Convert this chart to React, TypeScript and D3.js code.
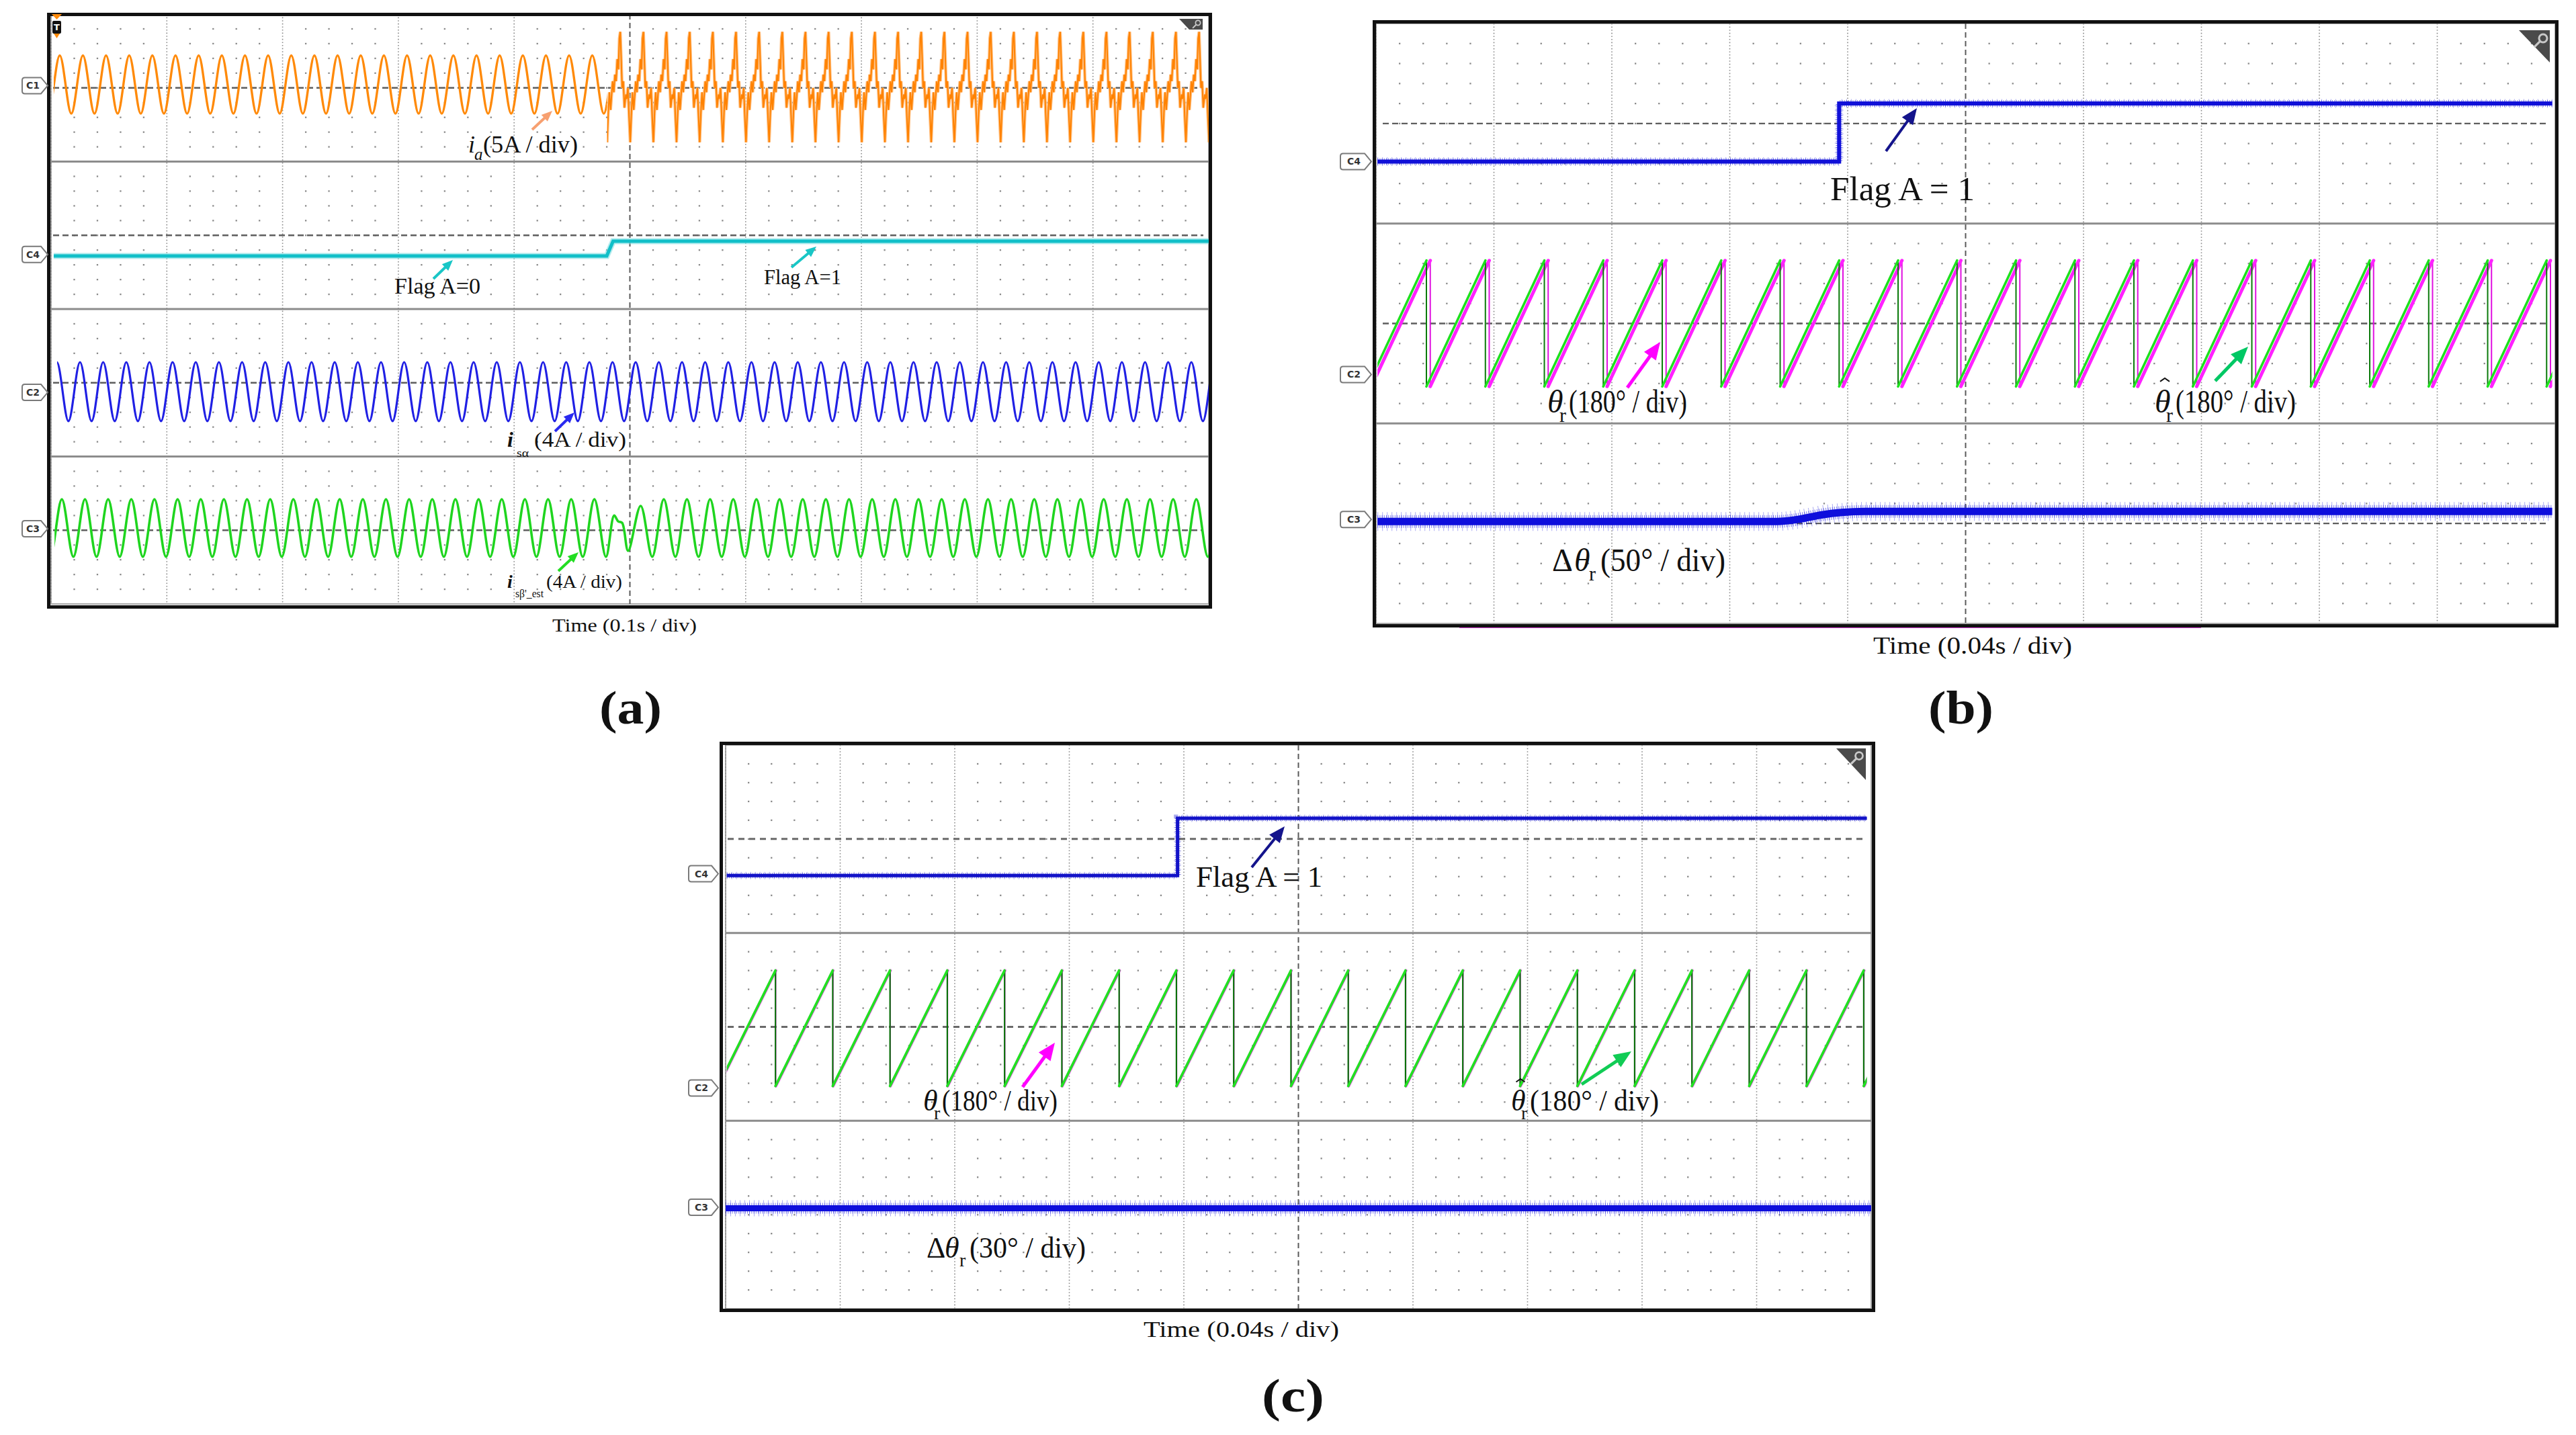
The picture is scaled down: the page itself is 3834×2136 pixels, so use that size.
import React from "react";
import * as d3 from "d3";

type Pt = [number, number];

const W = 3834;
const H = 2136;
const SERIF = "'Liberation Serif', 'Times New Roman', serif";
const SANS = "'DejaVu Sans', Arial, sans-serif";

// ======================= DATA =======================
// ---- panel (a): 0.1 s/div, values in vertical divisions relative to each channel reference ----
const aChannelNames = ["C1", "C4", "C2", "C3"];
const aRefLevels = [3, 1, -1, -3];
const aMarkerLevels = [3.03, 0.74, -1.13, -2.98];

// i_a (5 A/div): sinusoid before the switch, distorted after
const iaStart = 0.0023;
const iaEnd = 1.0;
const iaSwitch = 0.4803;
const iaSine = { firstPeak: 0.0075, period: 0.02, peak: 0.44, trough: -0.35 };
// one distorted cycle after the switch: [phase (0..1), value (div)]
const iaDistortedCycle: Pt[] = [
  [0.0, -0.74], [0.05, -0.34], [0.1, -0.06], [0.15, -0.3], [0.19, -0.12], [0.24, 0.09],
  [0.29, -0.06], [0.34, 0.18], [0.39, 0.09], [0.44, 0.39], [0.49, 0.25], [0.53, 0.67],
  [0.57, 0.76], [0.61, 0.39], [0.65, 0.0], [0.7, 0.09], [0.75, -0.27], [0.81, -0.09],
  [0.85, -0.15], [0.9, 0.0], [0.95, -0.39],
];
const iaDistortedPeriod = 0.02;

// Flag A (C4)
const aFlag: Pt[] = [[0.0023, -0.28], [0.48, -0.28], [0.4855, -0.08], [1.0, -0.08]];

// i_s alpha (C2, 4 A/div)
const isaSine = { start: 0.0052, end: 1.0, firstPeak: 0.005, period: 0.02, peak: 0.28, trough: -0.52 };
// i_s beta'_est (C3, 4 A/div)
const isbSine = { start: 0.003, end: 1.0, firstPeak: 0.0093, period: 0.02, peak: 0.42, trough: -0.36 };
const isbDisturbWindow: Pt = [0.482, 0.51];
const isbDisturbance: Pt[] = [[0.4864, 0.2], [0.4899, 0.12], [0.4933, 0.1], [0.4985, -0.28], [0.5093, 0.33]];

// ---- panel (b): 0.04 s/div ----
const bChannelNames = ["C4", "C2", "C3"];
const bRefLevels = [2, 0, -2];
const bMarkerLevels = [1.62, -0.51, -1.96];
const bFlag: Pt[] = [[0.0005, -0.38], [0.1571, -0.38], [0.1571, 0.2], [0.399, 0.2]];
const bSawResets = [
  0.0171, 0.0371, 0.0571, 0.0771, 0.0971, 0.1171, 0.1371, 0.1571, 0.1771, 0.1971,
  0.2171, 0.2371, 0.2571, 0.2771, 0.2971, 0.3171, 0.3371, 0.3571, 0.3771, 0.3971,
];
const bSawLag = 0.0013; // theta_r (magenta) behind estimate (green)
const bSawLow = -0.63;
const bSawHigh = 0.63;
const bSawSpan: Pt = [0.0005, 0.399];
const bDelta: Pt[] = [
  [0.0005, 0.02], [0.136, 0.02], [0.144, 0.045], [0.151, 0.085], [0.158, 0.11], [0.166, 0.12], [0.399, 0.12],
];

// ---- panel (c): 0.04 s/div ----
const cChannelNames = ["C4", "C2", "C3"];
const cRefLevels = [2, 0];
const cMarkerLevels = [1.63, -0.65, -1.92];
const cFlag: Pt[] = [[0.0004, -0.39], [0.1578, -0.39], [0.1578, 0.22], [0.3985, 0.22]];
const cSawResets = [
  0.0174, 0.0374, 0.0574, 0.0774, 0.0974, 0.1174, 0.1374, 0.1574, 0.1774, 0.1974,
  0.2174, 0.2374, 0.2574, 0.2774, 0.2974, 0.3174, 0.3374, 0.3574, 0.3774, 0.3974,
];
const cSawLag = 0.00015;
const cSawLow = -0.63;
const cSawHigh = 0.6;
const cSawSpan: Pt = [0.0004, 0.3985];
const cDeltaRef = -2.0;
const cDelta: Pt[] = [[0.0, 0.07], [0.4, 0.07]];

// ---- text ----
const txtIa = "(5A / div)";
const txtFlag0 = "Flag A=0";
const txtFlag1 = "Flag A=1";
const txtIs = "(4A / div)";
const txtTimeA = "Time (0.1s / div)";
const txtTimeBC = "Time (0.04s / div)";
const txtFlagBig = "Flag  A = 1";
const txt180 = "(180° / div)";
const txt50 = "(50° / div)";
const txt30 = "(30° / div)";

// ======================= HELPERS =======================
function sineExtrema(c: { firstPeak: number; period: number; peak: number; trough: number }, t0: number, t1: number): Pt[] {
  const out: Pt[] = [];
  const k0 = Math.floor((t0 - c.firstPeak) / c.period) - 1;
  const k1 = Math.ceil((t1 - c.firstPeak) / c.period) + 1;
  for (let k = k0; k <= k1; k++) {
    const tp = c.firstPeak + k * c.period;
    out.push([tp, c.peak], [tp + c.period / 2, c.trough]);
  }
  return out;
}

function arrow(key: string, x1: number, y1: number, x2: number, y2: number, color: string, w: number, head: number) {
  const a = Math.atan2(y2 - y1, x2 - x1);
  const bx = x2 - head * Math.cos(a);
  const by = y2 - head * Math.sin(a);
  const px = -Math.sin(a) * head * 0.42;
  const py = Math.cos(a) * head * 0.42;
  return (
    <g key={key}>
      <line x1={x1} y1={y1} x2={bx + Math.cos(a) * 2} y2={by + Math.sin(a) * 2} stroke={color} strokeWidth={w} />
      <polygon points={`${x2},${y2} ${bx + px},${by + py} ${bx - px},${by - py}`} fill={color} />
    </g>
  );
}

function Hat({ x, y, w }: { x: number; y: number; w: number }) {
  return <path d={`M${x - w},${y + w * 0.7} L${x},${y} L${x + w},${y + w * 0.7}`} fill="none" stroke="#111" strokeWidth={2} />;
}

function Grid({ x0, x1, y0, y1, ny }: { x0: number; x1: number; y0: number; y1: number; ny: number }) {
  const gx = d3.scaleLinear().domain([0, 10]).range([x0, x1]);
  const gy = d3.scaleLinear().domain([0, ny]).range([y0, y1]);
  const dots: any[] = [];
  for (let i = 1; i < 50; i++) {
    if (i % 5 === 0) continue;
    for (let j = 1; j < ny * 5; j++) {
      if (j % 10 === 0) continue;
      dots.push(<rect key={`d${i}_${j}`} x={gx(i / 5) - 1.1} y={gy(j / 5) - 1.1} width={2.3} height={2.3} fill="#8a8a8a" />);
    }
  }
  const majors = d3.range(0, 10).map((k) =>
    k === 5 ? (
      <line key={`m${k}`} x1={gx(k)} x2={gx(k)} y1={y0} y2={y1} stroke="#5a5a5a" strokeWidth={2} strokeDasharray="8 5" />
    ) : (
      <line key={`m${k}`} x1={gx(k)} x2={gx(k)} y1={y0} y2={y1} stroke="#8a8a8a" strokeWidth={1.6} strokeDasharray="1.6 3" />
    )
  );
  const seps = d3.range(2, ny, 2).map((s) => (
    <line key={`s${s}`} x1={x0} x2={x1} y1={gy(s)} y2={gy(s)} stroke="#8c8c8c" strokeWidth={3} />
  ));
  return (
    <g>
      {dots}
      {majors}
      {seps}
    </g>
  );
}

function Marker({ name, y, left, tip }: { name: string; y: number; left: number; tip: number }) {
  const h = 12;
  const d = `M${left + 4},${y - h} L${tip - 10},${y - h} L${tip},${y} L${tip - 10},${y + h} L${left + 4},${y + h} Q${left},${y + h} ${left},${y + h - 4} L${left},${y - h + 4} Q${left},${y - h} ${left + 4},${y - h} Z`;
  return (
    <g>
      <path d={d} fill="#fff" stroke="#7a7a7a" strokeWidth={2} />
      <text x={(left + tip - 6) / 2} y={y + 5} fontSize={14} fontFamily={SANS} fontWeight="bold" fill="#333" textAnchor="middle">
        {name}
      </text>
    </g>
  );
}

function Saw({ X, Y, resets, lag, lo, hi, ramp, rampW, drop, dropW, clipId }: any) {
  const times = resets.map((r: number) => r + lag);
  const P = times.length > 1 ? times[1] - times[0] : 0.02;
  const starts = [times[0] - P, ...times];
  let dR = "";
  starts.forEach((t: number, i: number) => {
    const tEnd = i + 1 < starts.length ? starts[i + 1] : t + P;
    dR += `M${X(t)},${Y(lo)}L${X(tEnd)},${Y(hi)}`;
  });
  let dD = "";
  times.forEach((t: number) => {
    dD += `M${X(t)},${Y(hi)}L${X(t)},${Y(lo)}`;
  });
  return (
    <g clipPath={`url(#${clipId})`}>
      <path d={dD} stroke={drop} strokeWidth={dropW} fill="none" />
      <path d={dR} stroke={ramp} strokeWidth={rampW} fill="none" strokeLinecap="round" />
    </g>
  );
}

function NoisyLine({ d, color, core, halo1, halo2 }: { d: string; color: string; core: number; halo1: number; halo2: number }) {
  return (
    <g>
      <path d={d} fill="none" stroke={color} strokeWidth={halo2} strokeDasharray="1 6" opacity={0.35} />
      <path d={d} fill="none" stroke={color} strokeWidth={halo1} strokeDasharray="1 2.2" opacity={0.55} />
      <path d={d} fill="none" stroke={color} strokeWidth={core} />
    </g>
  );
}

function Icon({ pts, cx, cy, r }: { pts: string; cx: number; cy: number; r: number }) {
  return (
    <g>
      <polygon points={pts} fill="#4a4a4a" />
      <circle cx={cx} cy={cy} r={r} fill="none" stroke="#c8c8c8" strokeWidth={r * 0.5} />
      <line x1={cx - r * 0.7} y1={cy + r * 0.7} x2={cx - r * 2.2} y2={cy + r * 2.2} stroke="#c8c8c8" strokeWidth={r * 0.55} />
    </g>
  );
}

// ======================= PANEL A =======================
function PanelA() {
  const L = 76, R = 1799, T = 21, B = 899;
  const X = d3.scaleLinear().domain([0, 1.0]).range([L, R]);
  const Y = d3.scaleLinear().domain([4, -4]).range([T, B]);
  const smooth = (ref: number) =>
    d3.line<Pt>().x((d) => X(d[0])).y((d) => Y(ref + d[1])).curve(d3.curveCatmullRom.alpha(0.5));
  const lin = (ref: number) => d3.line<Pt>().x((d) => X(d[0])).y((d) => Y(ref + d[1]));

  const iaSinePts = sineExtrema(iaSine, iaStart, iaSwitch);
  const iaDistPts: Pt[] = [];
  for (let k = 0; iaSwitch + k * iaDistortedPeriod < iaEnd + iaDistortedPeriod; k++) {
    iaDistortedCycle.forEach(([ph, v]) => iaDistPts.push([iaSwitch + (k + ph) * iaDistortedPeriod, v]));
  }
  const isaPts = sineExtrema(isaSine, isaSine.start, isaSine.end);
  const isbPts = sineExtrema(isbSine, isbSine.start, isbSine.end)
    .filter(([t]) => t < isbDisturbWindow[0] || t > isbDisturbWindow[1])
    .concat(isbDisturbance)
    .sort((a, b) => a[0] - b[0]);

  const clip = (id: string, t0: number, t1: number) => (
    <clipPath id={id} key={id}>
      <rect x={X(t0)} y={T} width={X(t1) - X(t0)} height={B - T} />
    </clipPath>
  );

  return (
    <g>
      <defs>
        {clip("a-ia1", iaStart, iaSwitch)}
        {clip("a-ia2", iaSwitch, iaEnd)}
        {clip("a-isa", isaSine.start, isaSine.end)}
        {clip("a-isb", isbSine.start, isbSine.end)}
      </defs>
      <rect x={L} y={T} width={R - L} height={B - T} fill="#fff" stroke="#a8a8a8" strokeWidth={2} />
      <Grid x0={L} x1={R} y0={T} y1={B} ny={8} />
      {aRefLevels.map((lv, i) => (
        <line key={`ar${i}`} x1={L + 3} x2={R - 8} y1={Y(lv)} y2={Y(lv)} stroke="#5e5e5e" strokeWidth={2.4} strokeDasharray="9 5" />
      ))}
      {/* i_a */}
      <path d={smooth(aRefLevels[0])(iaSinePts) || ""} clipPath="url(#a-ia1)" fill="none" stroke="#FF8A0A" strokeWidth={3.4} />
      <g clipPath="url(#a-ia2)">
        <path d={lin(aRefLevels[0])(iaDistPts) || ""} fill="none" stroke="#FFC083" strokeWidth={4.5} />
        <path d={lin(aRefLevels[0])(iaDistPts) || ""} fill="none" stroke="#FF8200" strokeWidth={2} />
      </g>
      {/* Flag A */}
      <path d={lin(aRefLevels[1])(aFlag) || ""} fill="none" stroke="#7FDDE2" strokeWidth={9} opacity={0.6} />
      <path d={lin(aRefLevels[1])(aFlag) || ""} fill="none" stroke="#11BFC8" strokeWidth={5} />
      {/* i_s alpha */}
      <path d={smooth(aRefLevels[2])(isaPts) || ""} clipPath="url(#a-isa)" fill="none" stroke="#2020E4" strokeWidth={3.2} />
      {/* i_s beta est */}
      <path d={smooth(aRefLevels[3])(isbPts) || ""} clipPath="url(#a-isb)" fill="none" stroke="#1FD51F" strokeWidth={3.6} />

      {/* frame */}
      <rect x={72.5} y={21.5} width={1729} height={882} fill="none" stroke="#111" strokeWidth={5} />
      {aChannelNames.map((n, i) => (
        <Marker key={`am${n}`} name={n} y={Y(aMarkerLevels[i])} left={33} tip={71} />
      ))}
      {/* trigger marker */}
      <polygon points="77,21 92,21 84.5,29" fill="#FF8A0A" />
      <rect x={78} y={31} width={13} height={19} rx={2} fill="#111" />
      <text x={84.5} y={45} fontSize={13} fontWeight="bold" fontFamily={SANS} fill="#fff" textAnchor="middle">T</text>
      <polygon points="80,50 89,50 84.5,57" fill="#FF8A0A" />
      <Icon pts="1755,28 1790,28 1790,44 1770,44" cx={1783} cy={34} r={3.6} />

      {/* labels */}
      <g fontFamily={SERIF} fill="#111">
        <text x={697} y={227} fontSize={36} fontStyle="italic">i</text>
        <text x={706} y={238} fontSize={25} fontStyle="italic">a</text>
        <text x={719} y={227} fontSize={36} textLength={141} lengthAdjust="spacingAndGlyphs">{txtIa}</text>
        {arrow("aa1", 792, 193, 822, 165, "#F7A070", 4, 16)}

        <text x={587} y={437} fontSize={33} textLength={128} lengthAdjust="spacingAndGlyphs">{txtFlag0}</text>
        {arrow("aa2", 645, 415, 674, 387, "#19C6C6", 4, 16)}
        <text x={1137} y={423} fontSize={31} textLength={115} lengthAdjust="spacingAndGlyphs">{txtFlag1}</text>
        {arrow("aa3", 1178, 398, 1215, 367, "#19C6C6", 4, 16)}

        <text x={755} y={665} fontSize={32} fontStyle="italic" fontWeight="bold">i</text>
        <text x={769} y={680} fontSize={17} textLength={18} lengthAdjust="spacingAndGlyphs">sα</text>
        <text x={795} y={665} fontSize={32} textLength={137} lengthAdjust="spacingAndGlyphs">{txtIs}</text>
        {arrow("aa4", 826, 642, 855, 614, "#2A2AF0", 4, 16)}

        <text x={755} y={875} fontSize={28} fontStyle="italic" fontWeight="bold">i</text>
        <text x={767} y={889} fontSize={16} textLength={42} lengthAdjust="spacingAndGlyphs">sβ'_est</text>
        <text x={813} y={875} fontSize={28} textLength={113} lengthAdjust="spacingAndGlyphs">{txtIs}</text>
        {arrow("aa5", 831, 850, 861, 822, "#22DD22", 4, 16)}

        <text x={822} y={940} fontSize={28} textLength={215} lengthAdjust="spacingAndGlyphs">{txtTimeA}</text>
        <text x={892} y={1077} fontSize={70} fontWeight="bold" textLength={93} lengthAdjust="spacingAndGlyphs">(a)</text>
      </g>
    </g>
  );
}

// ======================= PANEL B =======================
function PanelB() {
  const L = 2048, R = 3803, T = 35, B = 928;
  const X = d3.scaleLinear().domain([0, 0.4]).range([L, R]);
  const Y = d3.scaleLinear().domain([3, -3]).range([T, B]);
  const lin = (ref: number) => d3.line<Pt>().x((d) => X(d[0])).y((d) => Y(ref + d[1]));
  const smooth = (ref: number) => d3.line<Pt>().x((d) => X(d[0])).y((d) => Y(ref + d[1])).curve(d3.curveMonotoneX);
  const Ysaw = (v: number) => Y(bRefLevels[1] + v);
  return (
    <g>
      <defs>
        <clipPath id="b-saw">
          <rect x={X(bSawSpan[0])} y={T} width={X(bSawSpan[1]) - X(bSawSpan[0])} height={B - T} />
        </clipPath>
      </defs>
      <rect x={L} y={T} width={R - L} height={B - T} fill="#fff" stroke="#a8a8a8" strokeWidth={2} />
      <Grid x0={L} x1={R} y0={T} y1={B} ny={6} />
      {bRefLevels.map((lv, i) => (
        <line key={`br${i}`} x1={L + 10} x2={R - 12} y1={Y(lv)} y2={Y(lv)} stroke="#5e5e5e" strokeWidth={2.4} strokeDasharray="9 5" />
      ))}
      <NoisyLine d={lin(bRefLevels[0])(bFlag) || ""} color="#1010D8" core={6} halo1={10} halo2={13} />
      <Saw X={X} Y={Ysaw} resets={bSawResets} lag={bSawLag} lo={bSawLow} hi={bSawHigh}
        ramp="#FF22FF" rampW={5} drop="#E010E0" dropW={2} clipId="b-saw" />
      <Saw X={X} Y={Ysaw} resets={bSawResets} lag={0} lo={bSawLow} hi={bSawHigh}
        ramp="#1EE01E" rampW={3.6} drop="#0A7A0A" dropW={2} clipId="b-saw" />
      <NoisyLine d={smooth(bRefLevels[2])(bDelta) || ""} color="#0E0EDC" core={11} halo1={19} halo2={28} />

      {/* bottom strip */}
      <line x1={2172} x2={3276} y1={933} y2={933} stroke="#E040E0" strokeWidth={4} />
      <rect x={2045.5} y={32.5} width={1760} height={899} fill="none" stroke="#111" strokeWidth={5} />
      {bChannelNames.map((n, i) => (
        <Marker key={`bm${n}`} name={n} y={Y(bMarkerLevels[i])} left={1995} tip={2041} />
      ))}
      <Icon pts="3749,45 3795,45 3795,93" cx={3785} cy={57} r={6} />

      <g fontFamily={SERIF} fill="#111">
        <text x={2724} y={298} fontSize={50} textLength={215} lengthAdjust="spacingAndGlyphs">{txtFlagBig}</text>
        {arrow("ba1", 2807, 225, 2853, 161, "#14148C", 4, 24)}

        <text x={2303} y={614} fontSize={48} fontStyle="italic">θ</text>
        <text x={2321} y={628} fontSize={30}>r</text>
        <text x={2335} y={614} fontSize={48} textLength={176} lengthAdjust="spacingAndGlyphs">{txt180}</text>
        {arrow("ba2", 2422, 577, 2471, 509, "#FF00FF", 5, 26)}

        <text x={3207} y={614} fontSize={48} fontStyle="italic">θ</text>
        <Hat x={3222} y={563} w={7} />
        <text x={3224} y={628} fontSize={30}>r</text>
        <text x={3238} y={614} fontSize={48} textLength={179} lengthAdjust="spacingAndGlyphs">{txt180}</text>
        {arrow("ba3", 3297, 567, 3346, 516, "#00C864", 5, 26)}

        <text x={2310} y={850} fontSize={48}>Δ</text>
        <text x={2343} y={850} fontSize={48} fontStyle="italic">θ</text>
        <text x={2365} y={864} fontSize={30}>r</text>
        <text x={2382} y={850} fontSize={48} textLength={186} lengthAdjust="spacingAndGlyphs">{txt50}</text>

        <text x={2788} y={973} fontSize={36} textLength={296} lengthAdjust="spacingAndGlyphs">{txtTimeBC}</text>
        <text x={2870} y={1077} fontSize={70} fontWeight="bold" textLength={97} lengthAdjust="spacingAndGlyphs">(b)</text>
      </g>
    </g>
  );
}

// ======================= PANEL C =======================
function PanelC() {
  const L = 1080, R = 2785, T = 1109, B = 1948;
  const X = d3.scaleLinear().domain([0, 0.4]).range([L, R]);
  const Y = d3.scaleLinear().domain([3, -3]).range([T, B]);
  const lin = (ref: number) => d3.line<Pt>().x((d) => X(d[0])).y((d) => Y(ref + d[1]));
  const Ysaw = (v: number) => Y(cRefLevels[1] + v);
  return (
    <g>
      <defs>
        <clipPath id="c-saw">
          <rect x={X(cSawSpan[0])} y={T} width={X(cSawSpan[1]) - X(cSawSpan[0])} height={B - T} />
        </clipPath>
        <clipPath id="c-plot">
          <rect x={L} y={T} width={R - L} height={B - T} />
        </clipPath>
      </defs>
      <rect x={L} y={T} width={R - L} height={B - T} fill="#fff" stroke="#a8a8a8" strokeWidth={2} />
      <Grid x0={L} x1={R} y0={T} y1={B} ny={6} />
      {cRefLevels.map((lv, i) => (
        <line key={`cr${i}`} x1={L + 3} x2={R - 9} y1={Y(lv)} y2={Y(lv)} stroke="#6a6a6a" strokeWidth={3} strokeDasharray="9 7" />
      ))}
      <NoisyLine d={lin(cRefLevels[0])(cFlag) || ""} color="#1212C8" core={5} halo1={8} halo2={11} />
      <Saw X={X} Y={Ysaw} resets={cSawResets} lag={cSawLag} lo={cSawLow} hi={cSawHigh}
        ramp="#FF40FF" rampW={4} drop="#E020E0" dropW={1.2} clipId="c-saw" />
      <Saw X={X} Y={Ysaw} resets={cSawResets} lag={0} lo={cSawLow} hi={cSawHigh}
        ramp="#22E022" rampW={3.8} drop="#0A700A" dropW={2.2} clipId="c-saw" />
      <g clipPath="url(#c-plot)">
        <NoisyLine d={lin(cDeltaRef)(cDelta) || ""} color="#0E0EDC" core={9} halo1={16} halo2={24} />
      </g>

      <rect x={1073.5} y={1106.5} width={1715} height={844} fill="none" stroke="#111" strokeWidth={5} />
      {cChannelNames.map((n, i) => (
        <Marker key={`cm${n}`} name={n} y={Y(cMarkerLevels[i])} left={1025} tip={1069} />
      ))}
      <Icon pts="2733,1114 2777,1114 2777,1161" cx={2767} cy={1125} r={5.5} />

      <g fontFamily={SERIF} fill="#111">
        <text x={1780} y={1320} fontSize={44} textLength={188} lengthAdjust="spacingAndGlyphs">{txtFlagBig}</text>
        {arrow("ca1", 1863, 1291, 1912, 1230, "#14148C", 4, 24)}

        <text x={1374} y={1653} fontSize={44} fontStyle="italic">θ</text>
        <text x={1390} y={1666} fontSize={28}>r</text>
        <text x={1402} y={1653} fontSize={44} textLength={172} lengthAdjust="spacingAndGlyphs">{txt180}</text>
        {arrow("ca2", 1522, 1618, 1570, 1552, "#FF00FF", 5, 26)}

        <text x={2249} y={1653} fontSize={44} fontStyle="italic">θ</text>
        <Hat x={2263} y={1606} w={6.5} />
        <text x={2264} y={1666} fontSize={28}>r</text>
        <text x={2277} y={1653} fontSize={44} textLength={192} lengthAdjust="spacingAndGlyphs">{txt180}</text>
        {arrow("ca3", 2354, 1614, 2428, 1565, "#11CC55", 5, 26)}

        <text x={1379} y={1872} fontSize={44}>Δ</text>
        <text x={1406} y={1872} fontSize={44} fontStyle="italic">θ</text>
        <text x={1428} y={1885} fontSize={28}>r</text>
        <text x={1443} y={1872} fontSize={44} textLength={173} lengthAdjust="spacingAndGlyphs">{txt30}</text>

        <text x={1702} y={1990} fontSize={34} textLength={291} lengthAdjust="spacingAndGlyphs">{txtTimeBC}</text>
        <text x={1878} y={2101} fontSize={70} fontWeight="bold" textLength={93} lengthAdjust="spacingAndGlyphs">(c)</text>
      </g>
    </g>
  );
}

export default function App() {
  return (
    <svg
      width={W}
      height={H}
      viewBox={`0 0 ${W} ${H}`}
      style={{ position: "absolute", left: 0, top: 0, display: "block", background: "#fff" }}
    >
      <rect x={0} y={0} width={W} height={H} fill="#fff" />
      <PanelA />
      <PanelB />
      <PanelC />
    </svg>
  );
}
